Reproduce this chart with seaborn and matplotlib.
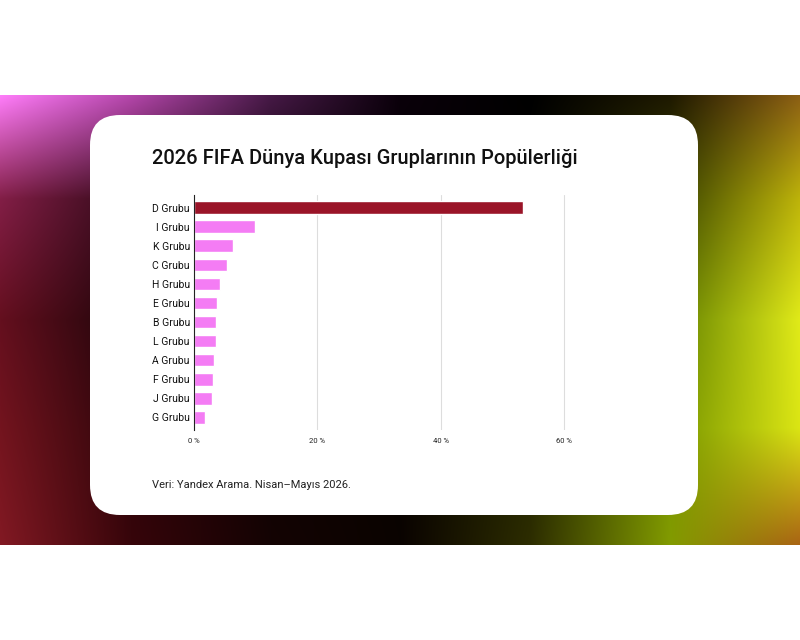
import numpy as np
import pandas as pd
import matplotlib
matplotlib.use("Agg")
import matplotlib.pyplot as plt
from matplotlib.patches import FancyBboxPatch
import seaborn as sns

# data (share of searches, %)
groups = ["D Grubu", "I Grubu", "K Grubu", "C Grubu", "H Grubu", "E Grubu",
          "B Grubu", "L Grubu", "A Grubu", "F Grubu", "J Grubu", "G Grubu"]
shares = [53.3, 9.9, 6.3, 5.3, 4.2, 3.7, 3.6, 3.6, 3.2, 3.1, 2.9, 1.8]
x_ticks = [0, 20, 40, 60]
x_tick_labels = ["0 %", "20 %", "40 %", "60 %"]

title = "2026 FIFA Dünya Kupası Gruplarının Popülerliği"
source = "Veri: Yandex Arama. Nisan–Mayıs 2026."

df = pd.DataFrame({"group": groups, "share": shares})
highlight = "#9a1428"
pink = "#f47cf4"
palette = {g: (highlight if i == 0 else pink) for i, g in enumerate(groups)}

sns.set_theme(style="white")
plt.rcParams["font.family"] = ["Roboto", "DejaVu Sans"]

fig = plt.figure(figsize=(8, 6.4), dpi=100)

# background: gradient band + white rounded card, in pixel units
bg = fig.add_axes([0, 0, 1, 1])
bg.set_xlim(0, 800)
bg.set_ylim(640, 0)
bg.axis("off")

xs = [0, 130, 270, 400, 530, 670, 800]
ys = [0.0, 0.23, 0.5, 0.74, 1.0]
grid = np.array([
    [(255, 125, 250), (180, 70, 170), (70, 25, 70), (10, 0, 10), (0, 0, 0), (30, 25, 0), (140, 95, 20)],
    [(130, 30, 70), (50, 10, 25), (15, 3, 8), (5, 0, 5), (5, 5, 0), (60, 70, 0), (190, 180, 10)],
    [(100, 15, 30), (30, 5, 10), (12, 2, 4), (5, 2, 2), (20, 22, 0), (100, 130, 0), (225, 235, 25)],
    [(115, 20, 30), (45, 5, 10), (15, 3, 3), (8, 3, 0), (35, 38, 0), (120, 150, 0), (220, 230, 20)],
    [(130, 25, 35), (55, 5, 10), (20, 3, 3), (10, 3, 0), (45, 45, 0), (130, 155, 0), (170, 100, 20)],
], dtype=float)
W, H = 800, 450
gx = np.arange(W)
gy = np.linspace(0, 1, H)
rows = np.stack([np.stack([np.interp(gx, xs, grid[r, :, c]) for c in range(3)], axis=-1)
                 for r in range(len(ys))])
img = np.empty((H, W, 3))
for c in range(3):
    for j in range(W):
        img[:, j, c] = np.interp(gy, ys, rows[:, j, c])
bg.imshow(img / 255, extent=(0, 800, 545, 95), aspect="auto", interpolation="bilinear")
card = FancyBboxPatch((90, 115), 608, 400, boxstyle="round,pad=0,rounding_size=30",
                      facecolor="white", edgecolor="none")
bg.add_patch(card)

bg.text(152, 158, title, fontsize=14.5, fontweight="medium", color="#111111",
        ha="left", va="center")
bg.text(152, 485, source, fontsize=8, color="#222222", ha="left", va="center")

# bar chart
ax = fig.add_axes([194 / 800, 1 - 430 / 640, 401 / 800, 235 / 640])
sns.barplot(data=df, x="share", y="group", hue="group", palette=palette,
            legend=False, width=0.68, orient="h", ax=ax, saturation=1)
ax.set_xlim(0, 65)
ax.set_ylim(11.68, -0.68)
ax.set_xticks(x_ticks)
ax.set_xticklabels(x_tick_labels, fontsize=5.5, color="#222222")
ax.tick_params(axis="x", length=0, pad=6)
ax.tick_params(axis="y", length=0, pad=3, labelsize=7.5, labelcolor="#111111")
ax.set_xlabel("")
ax.set_ylabel("")
for v in x_ticks[1:]:
    ax.axvline(v, color="#dddddd", lw=0.8, zorder=0)
for s in ["top", "right", "bottom"]:
    ax.spines[s].set_visible(False)
ax.spines["left"].set_color("#222222")
ax.spines["left"].set_linewidth(0.8)
ax.set_facecolor("none")

fig.savefig("out.png", dpi=100)
